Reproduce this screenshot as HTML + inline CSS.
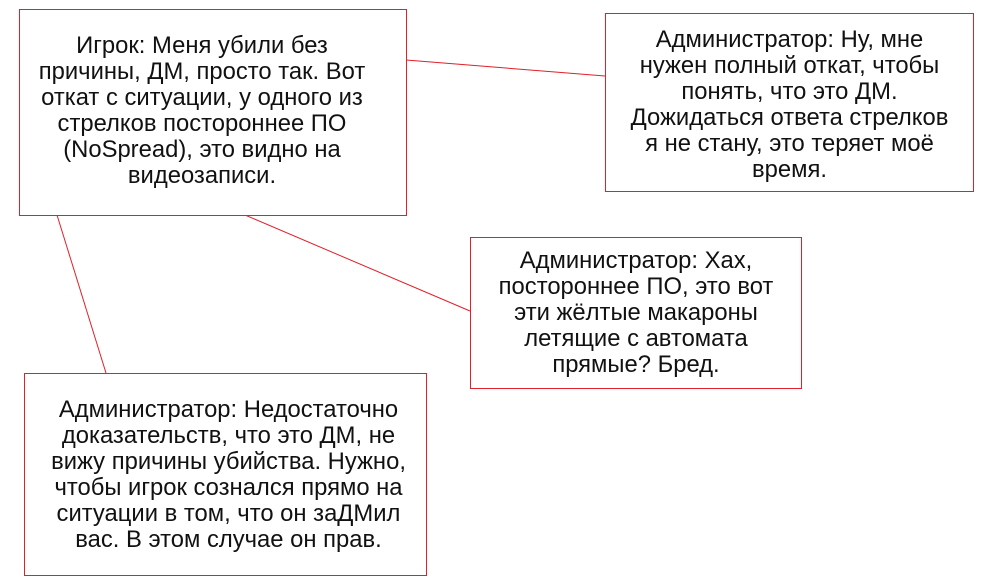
<!DOCTYPE html>
<html><head><meta charset="utf-8"><style>
body{margin:0;width:983px;height:588px;background:#fff;position:relative;overflow:hidden;font-family:"Liberation Sans",Arial,sans-serif;}
.b{position:absolute;border:1px solid #e0202a;box-sizing:border-box;display:flex;align-items:center;justify-content:center;text-align:center;font-size:23.8px;line-height:26px;color:#111;background:#fff;white-space:nowrap;}
svg{position:absolute;left:0;top:0;}
</style></head><body>
<svg width="983" height="588"><g stroke="#e0202a" stroke-width="1">
<line x1="406" y1="60" x2="605" y2="76"/>
<line x1="245" y1="215" x2="470" y2="311"/>
<line x1="57" y1="215" x2="106" y2="373"/>
</g></svg>
<div class="b" style="left:19px;top:9px;width:388px;height:207px;padding-right:22px;padding-bottom:4px">Игрок: Меня убили без<br>причины, ДМ, просто так. Вот<br>откат с ситуации, у одного из<br>стрелков постороннее ПО<br>(NoSpread), это видно на<br>видеозаписи.</div>
<div class="b" style="left:605px;top:13px;width:369px;height:179px;padding-top:4px">Администратор: Ну, мне<br>нужен полный откат, чтобы<br>понять, что это ДМ.<br>Дожидаться ответа стрелков<br>я не стану, это теряет моё<br>время.</div>
<div class="b" style="left:470px;top:237px;width:332px;height:152px">Администратор: Хах,<br>постороннее ПО, это вот<br>эти жёлтые макароны<br>летящие с автомата<br>прямые? Бред.</div>
<div class="b" style="left:24px;top:373px;width:403px;height:203px;padding-left:6px">Администратор: Недостаточно<br>доказательств, что это ДМ, не<br>вижу причины убийства. Нужно,<br>чтобы игрок сознался прямо на<br>ситуации в том, что он заДМил<br>вас. В этом случае он прав.</div>
</body></html>
